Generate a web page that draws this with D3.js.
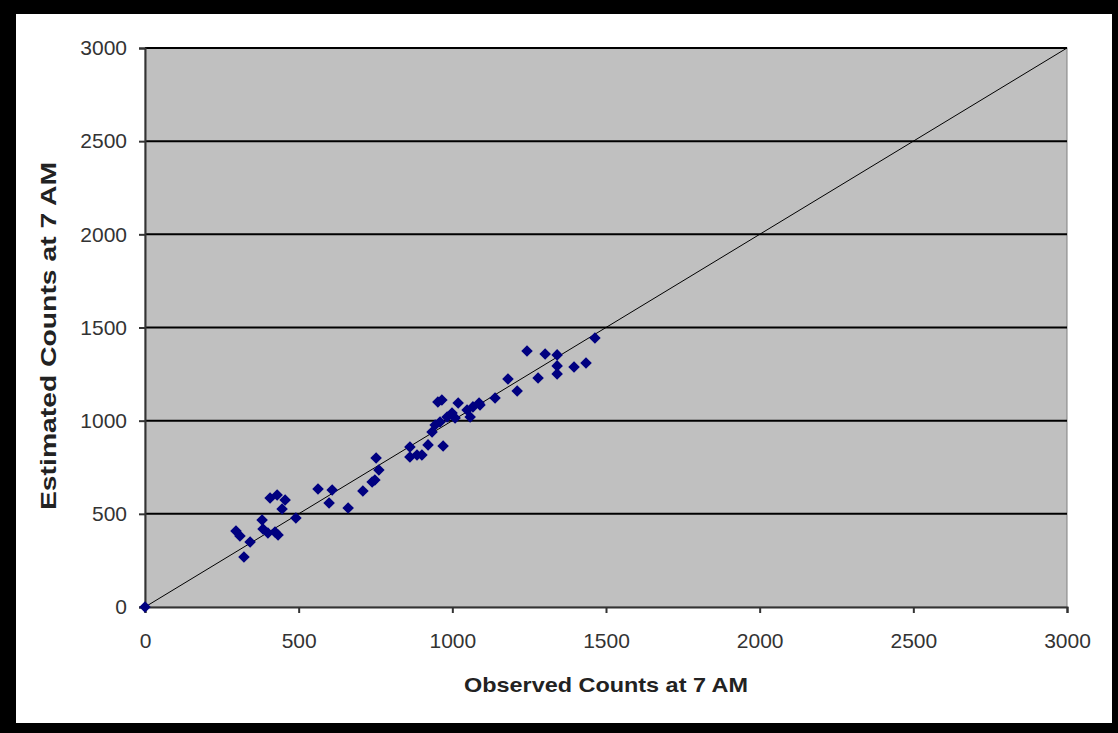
<!DOCTYPE html>
<html>
<head>
<meta charset="utf-8">
<script src="https://cdn.jsdelivr.net/npm/d3@7"></script>
<style>
  body { margin: 0; background: #000; }
  svg { display: block; }
</style>
</head>
<body>
<div class="chart"></div>
<script>
"use strict";

// observed vs estimated counts at 7 AM
var observed = [0, 296, 309, 342, 322, 381, 384, 400, 423, 433, 407, 430, 456, 446, 491,
  563, 609, 599, 661, 709, 739, 748, 761, 752, 862, 862, 885, 901, 921, 970,
  934, 944, 960, 983, 999, 966, 953, 1019, 1009, 1048, 1058, 1067, 1087, 1139,
  1181, 1211, 1243, 1279, 1302, 1341, 1341, 1341, 1396, 1435, 1464, 1090];
var estimated = [0, 408, 381, 349, 268, 467, 419, 397, 403, 386, 585, 601, 574, 526, 478,
  633, 628, 558, 531, 623, 671, 682, 735, 800, 859, 805, 816, 816, 870, 864,
  939, 977, 993, 1020, 1041, 1111, 1100, 1095, 1014, 1057, 1020, 1074, 1095, 1122,
  1224, 1159, 1374, 1229, 1358, 1353, 1294, 1251, 1288, 1310, 1444, 1084];
var ticks = [0, 500, 1000, 1500, 2000, 2500, 3000];
var lineEnds = [0, 3000];

var width = 1118,
    height = 733;

var plot = {left: 145, top: 48, right: 1067, bottom: 607};

var svg = d3.select(".chart")
  .append("svg")
  .attr("width", width)
  .attr("height", height);

// black frame around white card
svg.append("rect")
  .attr("width", width).attr("height", height)
  .attr("fill", "#000");
svg.append("rect")
  .attr("x", 16).attr("y", 14)
  .attr("width", 1096).attr("height", 709)
  .attr("fill", "#fff");

var x = d3.scaleLinear().domain([0, 3000]).range([plot.left, plot.right]);
var y = d3.scaleLinear().domain([0, 3000]).range([plot.bottom, plot.top]);

// plot background
svg.append("rect")
  .attr("x", plot.left).attr("y", plot.top)
  .attr("width", plot.right - plot.left)
  .attr("height", plot.bottom - plot.top)
  .attr("fill", "#c0c0c0")
  .attr("stroke", "#808080")
  .attr("stroke-width", 1);

// horizontal gridlines
svg.append("g")
  .selectAll("line")
  .data(ticks.filter(function(d){ return d > 0; }))
  .enter().append("line")
    .attr("x1", plot.left).attr("x2", plot.right)
    .attr("y1", function(d){ return y(d); })
    .attr("y2", function(d){ return y(d); })
    .attr("stroke", "#000")
    .attr("stroke-width", 2);

// 1:1 line
svg.append("line")
  .attr("x1", x(lineEnds[0])).attr("y1", y(lineEnds[0]))
  .attr("x2", x(lineEnds[1])).attr("y2", y(lineEnds[1]))
  .attr("stroke", "#000")
  .attr("stroke-width", 1);

// axes
var xAxis = svg.append("g")
  .attr("transform", "translate(0," + plot.bottom + ")")
  .call(d3.axisBottom(x).tickValues(ticks).tickSize(6).tickPadding(20).tickFormat(d3.format("d")));
var yAxis = svg.append("g")
  .attr("transform", "translate(" + plot.left + ",0)")
  .call(d3.axisLeft(y).tickValues(ticks).tickSize(6).tickPadding(12).tickFormat(d3.format("d")));

[xAxis, yAxis].forEach(function(g){
  g.select(".domain").attr("stroke", "#333").attr("stroke-width", 2);
  g.selectAll(".tick line").attr("stroke", "#333").attr("stroke-width", 2);
  g.selectAll(".tick text")
    .attr("fill", "#333")
    .style("font-family", "'Liberation Sans', Arial, sans-serif")
    .style("font-size", "21px");
});

// points
var pts = observed.map(function(d, i){ return [d, estimated[i]]; });
svg.append("g")
  .selectAll("path")
  .data(pts)
  .enter().append("path")
    .attr("d", d3.symbol().type(d3.symbolDiamond2).size(85))
    .attr("transform", function(d){ return "translate(" + x(d[0]) + "," + y(d[1]) + ")"; })
    .attr("fill", "#000080");

// axis titles
svg.append("text")
  .attr("x", 606).attr("y", 692)
  .attr("text-anchor", "middle")
  .attr("textLength", 284)
  .attr("lengthAdjust", "spacingAndGlyphs")
  .style("font-family", "'Liberation Sans', Arial, sans-serif")
  .style("font-weight", "bold")
  .style("font-size", "21px")
  .attr("fill", "#222")
  .text("Observed Counts at 7 AM");

svg.append("text")
  .attr("transform", "translate(56,336) rotate(-90)")
  .attr("text-anchor", "middle")
  .attr("textLength", 348)
  .attr("lengthAdjust", "spacingAndGlyphs")
  .style("font-family", "'Liberation Sans', Arial, sans-serif")
  .style("font-weight", "bold")
  .style("font-size", "22px")
  .attr("fill", "#222")
  .text("Estimated Counts at 7 AM");
</script>
</body>
</html>
